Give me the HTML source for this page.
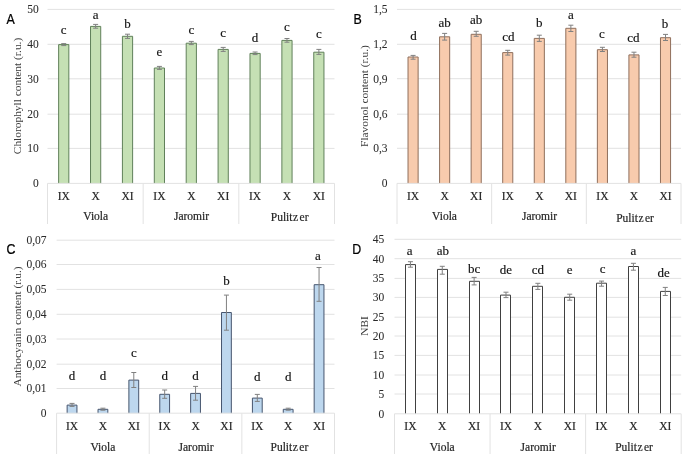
<!DOCTYPE html>
<html><head><meta charset="utf-8"><style>html,body{margin:0;padding:0;background:#fff;}svg{display:block;filter:blur(0.4px);}</style></head>
<body><svg width="685" height="459" viewBox="0 0 685 459">
<rect width="685" height="459" fill="#fff"/>
<text x="38.7" y="187.2" text-anchor="end" font-family='"Liberation Serif", serif' font-size="11.5" fill="#2a2a2a" stroke="#2a2a2a" stroke-width="0.05">0</text>
<line x1="47.5" y1="148.4" x2="334.5" y2="148.4" stroke="#e2e2e2" stroke-width="1"/>
<text x="38.7" y="152.2" text-anchor="end" font-family='"Liberation Serif", serif' font-size="11.5" fill="#2a2a2a" stroke="#2a2a2a" stroke-width="0.05">10</text>
<line x1="47.5" y1="114.2" x2="334.5" y2="114.2" stroke="#e2e2e2" stroke-width="1"/>
<text x="38.7" y="118" text-anchor="end" font-family='"Liberation Serif", serif' font-size="11.5" fill="#2a2a2a" stroke="#2a2a2a" stroke-width="0.05">20</text>
<line x1="47.5" y1="78.8" x2="334.5" y2="78.8" stroke="#e2e2e2" stroke-width="1"/>
<text x="38.7" y="82.6" text-anchor="end" font-family='"Liberation Serif", serif' font-size="11.5" fill="#2a2a2a" stroke="#2a2a2a" stroke-width="0.05">30</text>
<line x1="47.5" y1="44.3" x2="334.5" y2="44.3" stroke="#e2e2e2" stroke-width="1"/>
<text x="38.7" y="48.1" text-anchor="end" font-family='"Liberation Serif", serif' font-size="11.5" fill="#2a2a2a" stroke="#2a2a2a" stroke-width="0.05">40</text>
<line x1="47.5" y1="9.4" x2="334.5" y2="9.4" stroke="#e2e2e2" stroke-width="1"/>
<text x="38.7" y="13.2" text-anchor="end" font-family='"Liberation Serif", serif' font-size="11.5" fill="#2a2a2a" stroke="#2a2a2a" stroke-width="0.05">50</text>
<line x1="47.5" y1="183.4" x2="47.5" y2="224" stroke="#e2e2e2" stroke-width="1"/>
<line x1="143.17" y1="183.4" x2="143.17" y2="224" stroke="#e2e2e2" stroke-width="1"/>
<line x1="238.83" y1="183.4" x2="238.83" y2="224" stroke="#e2e2e2" stroke-width="1"/>
<line x1="334.5" y1="183.4" x2="334.5" y2="224" stroke="#e2e2e2" stroke-width="1"/>
<rect x="58.64" y="44.6" width="10.2" height="138.8" fill="#c5e0b4"/>
<path d="M58.64 183.4V44.6H68.84V183.4" fill="none" stroke="#60805a" stroke-width="1"/>
<path d="M63.74 43.6V45.6M61.24 43.6H66.24M61.24 45.6H66.24" stroke="#808080" stroke-width="1" fill="none"/>
<text x="63.74" y="34" text-anchor="middle" font-family='"Liberation Serif", serif' font-size="13" fill="#111" stroke="#111" stroke-width="0.15">c</text>
<text x="63.74" y="200.2" text-anchor="middle" font-family='"Liberation Serif", serif' font-size="11.5" fill="#262626" stroke="#262626" stroke-width="0.2">IX</text>
<rect x="90.53" y="26.4" width="10.2" height="157" fill="#c5e0b4"/>
<path d="M90.53 183.4V26.4H100.73V183.4" fill="none" stroke="#60805a" stroke-width="1"/>
<path d="M95.63 24.4V28.2M93.13 24.4H98.13M93.13 28.2H98.13" stroke="#808080" stroke-width="1" fill="none"/>
<text x="95.63" y="19.3" text-anchor="middle" font-family='"Liberation Serif", serif' font-size="13" fill="#111" stroke="#111" stroke-width="0.15">a</text>
<text x="95.63" y="200.2" text-anchor="middle" font-family='"Liberation Serif", serif' font-size="11.5" fill="#262626" stroke="#262626" stroke-width="0.2">X</text>
<rect x="122.42" y="36.3" width="10.2" height="147.1" fill="#c5e0b4"/>
<path d="M122.42 183.4V36.3H132.62V183.4" fill="none" stroke="#60805a" stroke-width="1"/>
<path d="M127.52 34.2V38.4M125.02 34.2H130.02M125.02 38.4H130.02" stroke="#808080" stroke-width="1" fill="none"/>
<text x="127.52" y="27.6" text-anchor="middle" font-family='"Liberation Serif", serif' font-size="13" fill="#111" stroke="#111" stroke-width="0.15">b</text>
<text x="127.52" y="200.2" text-anchor="middle" font-family='"Liberation Serif", serif' font-size="11.5" fill="#262626" stroke="#262626" stroke-width="0.2">XI</text>
<rect x="154.31" y="68" width="10.2" height="115.4" fill="#c5e0b4"/>
<path d="M154.31 183.4V68H164.51V183.4" fill="none" stroke="#60805a" stroke-width="1"/>
<path d="M159.41 66.4V69.4M156.91 66.4H161.91M156.91 69.4H161.91" stroke="#808080" stroke-width="1" fill="none"/>
<text x="159.41" y="55.5" text-anchor="middle" font-family='"Liberation Serif", serif' font-size="13" fill="#111" stroke="#111" stroke-width="0.15">e</text>
<text x="159.41" y="200.2" text-anchor="middle" font-family='"Liberation Serif", serif' font-size="11.5" fill="#262626" stroke="#262626" stroke-width="0.2">IX</text>
<rect x="186.2" y="43.2" width="10.2" height="140.2" fill="#c5e0b4"/>
<path d="M186.2 183.4V43.2H196.4V183.4" fill="none" stroke="#60805a" stroke-width="1"/>
<path d="M191.3 41.4V44.6M188.8 41.4H193.8M188.8 44.6H193.8" stroke="#808080" stroke-width="1" fill="none"/>
<text x="191.3" y="34" text-anchor="middle" font-family='"Liberation Serif", serif' font-size="13" fill="#111" stroke="#111" stroke-width="0.15">c</text>
<text x="191.3" y="200.2" text-anchor="middle" font-family='"Liberation Serif", serif' font-size="11.5" fill="#262626" stroke="#262626" stroke-width="0.2">X</text>
<rect x="218.09" y="49.4" width="10.2" height="134" fill="#c5e0b4"/>
<path d="M218.09 183.4V49.4H228.29V183.4" fill="none" stroke="#60805a" stroke-width="1"/>
<path d="M223.19 47.4V51.4M220.69 47.4H225.69M220.69 51.4H225.69" stroke="#808080" stroke-width="1" fill="none"/>
<text x="223.19" y="37" text-anchor="middle" font-family='"Liberation Serif", serif' font-size="13" fill="#111" stroke="#111" stroke-width="0.15">c</text>
<text x="223.19" y="200.2" text-anchor="middle" font-family='"Liberation Serif", serif' font-size="11.5" fill="#262626" stroke="#262626" stroke-width="0.2">XI</text>
<rect x="249.98" y="53.4" width="10.2" height="130" fill="#c5e0b4"/>
<path d="M249.98 183.4V53.4H260.18V183.4" fill="none" stroke="#60805a" stroke-width="1"/>
<path d="M255.08 52V54.6M252.58 52H257.58M252.58 54.6H257.58" stroke="#808080" stroke-width="1" fill="none"/>
<text x="255.08" y="41.5" text-anchor="middle" font-family='"Liberation Serif", serif' font-size="13" fill="#111" stroke="#111" stroke-width="0.15">d</text>
<text x="255.08" y="200.2" text-anchor="middle" font-family='"Liberation Serif", serif' font-size="11.5" fill="#262626" stroke="#262626" stroke-width="0.2">IX</text>
<rect x="281.87" y="40.4" width="10.2" height="143" fill="#c5e0b4"/>
<path d="M281.87 183.4V40.4H292.07V183.4" fill="none" stroke="#60805a" stroke-width="1"/>
<path d="M286.97 38.5V42.2M284.47 38.5H289.47M284.47 42.2H289.47" stroke="#808080" stroke-width="1" fill="none"/>
<text x="286.97" y="31" text-anchor="middle" font-family='"Liberation Serif", serif' font-size="13" fill="#111" stroke="#111" stroke-width="0.15">c</text>
<text x="286.97" y="200.2" text-anchor="middle" font-family='"Liberation Serif", serif' font-size="11.5" fill="#262626" stroke="#262626" stroke-width="0.2">X</text>
<rect x="313.76" y="52.2" width="10.2" height="131.2" fill="#c5e0b4"/>
<path d="M313.76 183.4V52.2H323.96V183.4" fill="none" stroke="#60805a" stroke-width="1"/>
<path d="M318.86 49.4V54.4M316.36 49.4H321.36M316.36 54.4H321.36" stroke="#808080" stroke-width="1" fill="none"/>
<text x="318.86" y="37.6" text-anchor="middle" font-family='"Liberation Serif", serif' font-size="13" fill="#111" stroke="#111" stroke-width="0.15">c</text>
<text x="318.86" y="200.2" text-anchor="middle" font-family='"Liberation Serif", serif' font-size="11.5" fill="#262626" stroke="#262626" stroke-width="0.2">XI</text>
<line x1="47.5" y1="183.4" x2="334.5" y2="183.4" stroke="#e2e2e2" stroke-width="1"/>
<text x="95.73" y="220.2" text-anchor="middle" font-family='"Liberation Serif", serif' font-size="11.5" fill="#262626" stroke="#262626" stroke-width="0.2">Viola</text>
<text x="191.5" y="220.2" text-anchor="middle" font-family='"Liberation Serif", serif' font-size="11.5" fill="#262626" stroke="#262626" stroke-width="0.2">Jaromir</text>
<text x="289.67" y="221.2" text-anchor="middle" font-family='"Liberation Serif", serif' font-size="11.5" fill="#262626" stroke="#262626" stroke-width="0.2">Pulit<tspan dx="0.6">z</tspan><tspan dx="1.4">er</tspan></text>
<text x="21.2" y="96" transform="rotate(-90 21.2 96)" text-anchor="middle" font-family='"Liberation Serif", serif' font-size="11.4" fill="#3a3a3a">Chlorophyll content (r.u.)</text>
<text transform="translate(6.6 23.9) scale(0.85 1)" font-family='"Liberation Sans", sans-serif' font-size="14.6" fill="#000" stroke="#000" stroke-width="0.25">A</text>
<text x="387.6" y="187.2" text-anchor="end" font-family='"Liberation Serif", serif' font-size="11.5" fill="#2a2a2a" stroke="#2a2a2a" stroke-width="0.05">0</text>
<line x1="397" y1="148.3" x2="681" y2="148.3" stroke="#e2e2e2" stroke-width="1"/>
<text x="387.6" y="152.1" text-anchor="end" font-family='"Liberation Serif", serif' font-size="11.5" fill="#2a2a2a" stroke="#2a2a2a" stroke-width="0.05">0,3</text>
<line x1="397" y1="114.2" x2="681" y2="114.2" stroke="#e2e2e2" stroke-width="1"/>
<text x="387.6" y="118" text-anchor="end" font-family='"Liberation Serif", serif' font-size="11.5" fill="#2a2a2a" stroke="#2a2a2a" stroke-width="0.05">0,6</text>
<line x1="397" y1="78.7" x2="681" y2="78.7" stroke="#e2e2e2" stroke-width="1"/>
<text x="387.6" y="82.5" text-anchor="end" font-family='"Liberation Serif", serif' font-size="11.5" fill="#2a2a2a" stroke="#2a2a2a" stroke-width="0.05">0,9</text>
<line x1="397" y1="44.3" x2="681" y2="44.3" stroke="#e2e2e2" stroke-width="1"/>
<text x="387.6" y="48.1" text-anchor="end" font-family='"Liberation Serif", serif' font-size="11.5" fill="#2a2a2a" stroke="#2a2a2a" stroke-width="0.05">1,2</text>
<line x1="397" y1="9.4" x2="681" y2="9.4" stroke="#e2e2e2" stroke-width="1"/>
<text x="387.6" y="13.2" text-anchor="end" font-family='"Liberation Serif", serif' font-size="11.5" fill="#2a2a2a" stroke="#2a2a2a" stroke-width="0.05">1,5</text>
<line x1="397" y1="183.4" x2="397" y2="224" stroke="#e2e2e2" stroke-width="1"/>
<line x1="491.67" y1="183.4" x2="491.67" y2="224" stroke="#e2e2e2" stroke-width="1"/>
<line x1="586.33" y1="183.4" x2="586.33" y2="224" stroke="#e2e2e2" stroke-width="1"/>
<line x1="681" y1="183.4" x2="681" y2="224" stroke="#e2e2e2" stroke-width="1"/>
<rect x="408.03" y="57" width="10.1" height="126.4" fill="#f8cbad"/>
<path d="M408.03 183.4V57H418.13V183.4" fill="none" stroke="#8f6f5c" stroke-width="1"/>
<path d="M413.08 55.4V59.2M410.58 55.4H415.58M410.58 59.2H415.58" stroke="#808080" stroke-width="1" fill="none"/>
<text x="413.48" y="40.3" text-anchor="middle" font-family='"Liberation Serif", serif' font-size="13" fill="#111" stroke="#111" stroke-width="0.15">d</text>
<text x="413.08" y="200.2" text-anchor="middle" font-family='"Liberation Serif", serif' font-size="11.5" fill="#262626" stroke="#262626" stroke-width="0.2">IX</text>
<rect x="439.58" y="36.8" width="10.1" height="146.6" fill="#f8cbad"/>
<path d="M439.58 183.4V36.8H449.68V183.4" fill="none" stroke="#8f6f5c" stroke-width="1"/>
<path d="M444.63 33.4V40.1M442.13 33.4H447.13M442.13 40.1H447.13" stroke="#808080" stroke-width="1" fill="none"/>
<text x="444.63" y="26.8" text-anchor="middle" font-family='"Liberation Serif", serif' font-size="13" fill="#111" stroke="#111" stroke-width="0.15">ab</text>
<text x="444.63" y="200.2" text-anchor="middle" font-family='"Liberation Serif", serif' font-size="11.5" fill="#262626" stroke="#262626" stroke-width="0.2">X</text>
<rect x="471.14" y="34.3" width="10.1" height="149.1" fill="#f8cbad"/>
<path d="M471.14 183.4V34.3H481.24V183.4" fill="none" stroke="#8f6f5c" stroke-width="1"/>
<path d="M476.19 31.3V36.3M473.69 31.3H478.69M473.69 36.3H478.69" stroke="#808080" stroke-width="1" fill="none"/>
<text x="476.19" y="23.6" text-anchor="middle" font-family='"Liberation Serif", serif' font-size="13" fill="#111" stroke="#111" stroke-width="0.15">ab</text>
<text x="476.19" y="200.2" text-anchor="middle" font-family='"Liberation Serif", serif' font-size="11.5" fill="#262626" stroke="#262626" stroke-width="0.2">XI</text>
<rect x="502.69" y="52.6" width="10.1" height="130.8" fill="#f8cbad"/>
<path d="M502.69 183.4V52.6H512.79V183.4" fill="none" stroke="#8f6f5c" stroke-width="1"/>
<path d="M507.74 50.3V55.1M505.24 50.3H510.24M505.24 55.1H510.24" stroke="#808080" stroke-width="1" fill="none"/>
<text x="508.34" y="40.7" text-anchor="middle" font-family='"Liberation Serif", serif' font-size="13" fill="#111" stroke="#111" stroke-width="0.15">cd</text>
<text x="507.74" y="200.2" text-anchor="middle" font-family='"Liberation Serif", serif' font-size="11.5" fill="#262626" stroke="#262626" stroke-width="0.2">IX</text>
<rect x="534.25" y="38.4" width="10.1" height="145" fill="#f8cbad"/>
<path d="M534.25 183.4V38.4H544.35V183.4" fill="none" stroke="#8f6f5c" stroke-width="1"/>
<path d="M539.3 35.2V41.4M536.8 35.2H541.8M536.8 41.4H541.8" stroke="#808080" stroke-width="1" fill="none"/>
<text x="539.3" y="26.9" text-anchor="middle" font-family='"Liberation Serif", serif' font-size="13" fill="#111" stroke="#111" stroke-width="0.15">b</text>
<text x="539.3" y="200.2" text-anchor="middle" font-family='"Liberation Serif", serif' font-size="11.5" fill="#262626" stroke="#262626" stroke-width="0.2">X</text>
<rect x="565.81" y="28.3" width="10.1" height="155.1" fill="#f8cbad"/>
<path d="M565.81 183.4V28.3H575.91V183.4" fill="none" stroke="#8f6f5c" stroke-width="1"/>
<path d="M570.86 25.2V31.5M568.36 25.2H573.36M568.36 31.5H573.36" stroke="#808080" stroke-width="1" fill="none"/>
<text x="570.86" y="19" text-anchor="middle" font-family='"Liberation Serif", serif' font-size="13" fill="#111" stroke="#111" stroke-width="0.15">a</text>
<text x="570.86" y="200.2" text-anchor="middle" font-family='"Liberation Serif", serif' font-size="11.5" fill="#262626" stroke="#262626" stroke-width="0.2">XI</text>
<rect x="597.36" y="49.7" width="10.1" height="133.7" fill="#f8cbad"/>
<path d="M597.36 183.4V49.7H607.46V183.4" fill="none" stroke="#8f6f5c" stroke-width="1"/>
<path d="M602.41 47.3V51.5M599.91 47.3H604.91M599.91 51.5H604.91" stroke="#808080" stroke-width="1" fill="none"/>
<text x="601.81" y="38.4" text-anchor="middle" font-family='"Liberation Serif", serif' font-size="13" fill="#111" stroke="#111" stroke-width="0.15">c</text>
<text x="602.41" y="200.2" text-anchor="middle" font-family='"Liberation Serif", serif' font-size="11.5" fill="#262626" stroke="#262626" stroke-width="0.2">IX</text>
<rect x="628.92" y="54.9" width="10.1" height="128.5" fill="#f8cbad"/>
<path d="M628.92 183.4V54.9H639.02V183.4" fill="none" stroke="#8f6f5c" stroke-width="1"/>
<path d="M633.97 52.2V57.2M631.47 52.2H636.47M631.47 57.2H636.47" stroke="#808080" stroke-width="1" fill="none"/>
<text x="633.47" y="41.9" text-anchor="middle" font-family='"Liberation Serif", serif' font-size="13" fill="#111" stroke="#111" stroke-width="0.15">cd</text>
<text x="633.97" y="200.2" text-anchor="middle" font-family='"Liberation Serif", serif' font-size="11.5" fill="#262626" stroke="#262626" stroke-width="0.2">X</text>
<rect x="660.47" y="37.7" width="10.1" height="145.7" fill="#f8cbad"/>
<path d="M660.47 183.4V37.7H670.57V183.4" fill="none" stroke="#8f6f5c" stroke-width="1"/>
<path d="M665.52 34.4V40.5M663.02 34.4H668.02M663.02 40.5H668.02" stroke="#808080" stroke-width="1" fill="none"/>
<text x="664.92" y="27.5" text-anchor="middle" font-family='"Liberation Serif", serif' font-size="13" fill="#111" stroke="#111" stroke-width="0.15">b</text>
<text x="665.52" y="200.2" text-anchor="middle" font-family='"Liberation Serif", serif' font-size="11.5" fill="#262626" stroke="#262626" stroke-width="0.2">XI</text>
<line x1="397" y1="183.4" x2="681" y2="183.4" stroke="#e2e2e2" stroke-width="1"/>
<text x="444.53" y="220.2" text-anchor="middle" font-family='"Liberation Serif", serif' font-size="11.5" fill="#262626" stroke="#262626" stroke-width="0.2">Viola</text>
<text x="539.5" y="220.2" text-anchor="middle" font-family='"Liberation Serif", serif' font-size="11.5" fill="#262626" stroke="#262626" stroke-width="0.2">Jaromir</text>
<text x="635.07" y="222.2" text-anchor="middle" font-family='"Liberation Serif", serif' font-size="11.5" fill="#262626" stroke="#262626" stroke-width="0.2">Pulit<tspan dx="0.6">z</tspan><tspan dx="1.4">er</tspan></text>
<text x="367.9" y="96" transform="rotate(-90 367.9 96)" text-anchor="middle" font-family='"Liberation Serif", serif' font-size="11.4" fill="#3a3a3a">Flavonol content (r.u.)</text>
<text transform="translate(353.4 23.9) scale(0.85 1)" font-family='"Liberation Sans", sans-serif' font-size="14.6" fill="#000" stroke="#000" stroke-width="0.25">B</text>
<text x="46.5" y="417" text-anchor="end" font-family='"Liberation Serif", serif' font-size="11.5" fill="#2a2a2a" stroke="#2a2a2a" stroke-width="0.05">0</text>
<line x1="56.6" y1="388.5" x2="334.5" y2="388.5" stroke="#e2e2e2" stroke-width="1"/>
<text x="46.5" y="392.3" text-anchor="end" font-family='"Liberation Serif", serif' font-size="11.5" fill="#2a2a2a" stroke="#2a2a2a" stroke-width="0.05">0,01</text>
<line x1="56.6" y1="364.2" x2="334.5" y2="364.2" stroke="#e2e2e2" stroke-width="1"/>
<text x="46.5" y="368" text-anchor="end" font-family='"Liberation Serif", serif' font-size="11.5" fill="#2a2a2a" stroke="#2a2a2a" stroke-width="0.05">0,02</text>
<line x1="56.6" y1="339" x2="334.5" y2="339" stroke="#e2e2e2" stroke-width="1"/>
<text x="46.5" y="342.8" text-anchor="end" font-family='"Liberation Serif", serif' font-size="11.5" fill="#2a2a2a" stroke="#2a2a2a" stroke-width="0.05">0,03</text>
<line x1="56.6" y1="314.3" x2="334.5" y2="314.3" stroke="#e2e2e2" stroke-width="1"/>
<text x="46.5" y="318.1" text-anchor="end" font-family='"Liberation Serif", serif' font-size="11.5" fill="#2a2a2a" stroke="#2a2a2a" stroke-width="0.05">0,04</text>
<line x1="56.6" y1="289.4" x2="334.5" y2="289.4" stroke="#e2e2e2" stroke-width="1"/>
<text x="46.5" y="293.2" text-anchor="end" font-family='"Liberation Serif", serif' font-size="11.5" fill="#2a2a2a" stroke="#2a2a2a" stroke-width="0.05">0,05</text>
<line x1="56.6" y1="264.5" x2="334.5" y2="264.5" stroke="#e2e2e2" stroke-width="1"/>
<text x="46.5" y="268.3" text-anchor="end" font-family='"Liberation Serif", serif' font-size="11.5" fill="#2a2a2a" stroke="#2a2a2a" stroke-width="0.05">0,06</text>
<line x1="56.6" y1="240.2" x2="334.5" y2="240.2" stroke="#e2e2e2" stroke-width="1"/>
<text x="46.5" y="244" text-anchor="end" font-family='"Liberation Serif", serif' font-size="11.5" fill="#2a2a2a" stroke="#2a2a2a" stroke-width="0.05">0,07</text>
<line x1="56.6" y1="413.2" x2="56.6" y2="454" stroke="#e2e2e2" stroke-width="1"/>
<line x1="149.23" y1="413.2" x2="149.23" y2="454" stroke="#e2e2e2" stroke-width="1"/>
<line x1="241.87" y1="413.2" x2="241.87" y2="454" stroke="#e2e2e2" stroke-width="1"/>
<line x1="334.5" y1="413.2" x2="334.5" y2="454" stroke="#e2e2e2" stroke-width="1"/>
<rect x="67.14" y="405.1" width="9.8" height="8.1" fill="#bdd7ee"/>
<path d="M67.14 413.2V405.1H76.94V413.2" fill="none" stroke="#46556e" stroke-width="1"/>
<path d="M72.04 403.4V406.4M69.54 403.4H74.54M69.54 406.4H74.54" stroke="#808080" stroke-width="1" fill="none"/>
<text x="72.04" y="380" text-anchor="middle" font-family='"Liberation Serif", serif' font-size="13" fill="#111" stroke="#111" stroke-width="0.15">d</text>
<text x="72.04" y="430.2" text-anchor="middle" font-family='"Liberation Serif", serif' font-size="11.5" fill="#262626" stroke="#262626" stroke-width="0.2">IX</text>
<rect x="98.02" y="409.3" width="9.8" height="3.9" fill="#bdd7ee"/>
<path d="M98.02 413.2V409.3H107.82V413.2" fill="none" stroke="#46556e" stroke-width="1"/>
<path d="M102.92 408.2V410.2M100.42 408.2H105.42M100.42 410.2H105.42" stroke="#808080" stroke-width="1" fill="none"/>
<text x="102.92" y="379.6" text-anchor="middle" font-family='"Liberation Serif", serif' font-size="13" fill="#111" stroke="#111" stroke-width="0.15">d</text>
<text x="102.92" y="430.2" text-anchor="middle" font-family='"Liberation Serif", serif' font-size="11.5" fill="#262626" stroke="#262626" stroke-width="0.2">X</text>
<rect x="128.89" y="380.1" width="9.8" height="33.1" fill="#bdd7ee"/>
<path d="M128.89 413.2V380.1H138.69V413.2" fill="none" stroke="#46556e" stroke-width="1"/>
<path d="M133.79 372.5V387.5M131.29 372.5H136.29M131.29 387.5H136.29" stroke="#808080" stroke-width="1" fill="none"/>
<text x="133.79" y="356.8" text-anchor="middle" font-family='"Liberation Serif", serif' font-size="13" fill="#111" stroke="#111" stroke-width="0.15">c</text>
<text x="133.79" y="430.2" text-anchor="middle" font-family='"Liberation Serif", serif' font-size="11.5" fill="#262626" stroke="#262626" stroke-width="0.2">XI</text>
<rect x="159.77" y="394.3" width="9.8" height="18.9" fill="#bdd7ee"/>
<path d="M159.77 413.2V394.3H169.57V413.2" fill="none" stroke="#46556e" stroke-width="1"/>
<path d="M164.67 390V398.3M162.17 390H167.17M162.17 398.3H167.17" stroke="#808080" stroke-width="1" fill="none"/>
<text x="164.67" y="380" text-anchor="middle" font-family='"Liberation Serif", serif' font-size="13" fill="#111" stroke="#111" stroke-width="0.15">d</text>
<text x="164.67" y="430.2" text-anchor="middle" font-family='"Liberation Serif", serif' font-size="11.5" fill="#262626" stroke="#262626" stroke-width="0.2">IX</text>
<rect x="190.65" y="393.4" width="9.8" height="19.8" fill="#bdd7ee"/>
<path d="M190.65 413.2V393.4H200.45V413.2" fill="none" stroke="#46556e" stroke-width="1"/>
<path d="M195.55 386.4V400.2M193.05 386.4H198.05M193.05 400.2H198.05" stroke="#808080" stroke-width="1" fill="none"/>
<text x="195.55" y="379.6" text-anchor="middle" font-family='"Liberation Serif", serif' font-size="13" fill="#111" stroke="#111" stroke-width="0.15">d</text>
<text x="195.55" y="430.2" text-anchor="middle" font-family='"Liberation Serif", serif' font-size="11.5" fill="#262626" stroke="#262626" stroke-width="0.2">X</text>
<rect x="221.53" y="312.5" width="9.8" height="100.7" fill="#bdd7ee"/>
<path d="M221.53 413.2V312.5H231.33V413.2" fill="none" stroke="#46556e" stroke-width="1"/>
<path d="M226.43 295.1V330.2M223.93 295.1H228.93M223.93 330.2H228.93" stroke="#808080" stroke-width="1" fill="none"/>
<text x="226.43" y="284.6" text-anchor="middle" font-family='"Liberation Serif", serif' font-size="13" fill="#111" stroke="#111" stroke-width="0.15">b</text>
<text x="226.43" y="430.2" text-anchor="middle" font-family='"Liberation Serif", serif' font-size="11.5" fill="#262626" stroke="#262626" stroke-width="0.2">XI</text>
<rect x="252.41" y="398.1" width="9.8" height="15.1" fill="#bdd7ee"/>
<path d="M252.41 413.2V398.1H262.21V413.2" fill="none" stroke="#46556e" stroke-width="1"/>
<path d="M257.31 394.4V401.4M254.81 394.4H259.81M254.81 401.4H259.81" stroke="#808080" stroke-width="1" fill="none"/>
<text x="257.31" y="380.5" text-anchor="middle" font-family='"Liberation Serif", serif' font-size="13" fill="#111" stroke="#111" stroke-width="0.15">d</text>
<text x="257.31" y="430.2" text-anchor="middle" font-family='"Liberation Serif", serif' font-size="11.5" fill="#262626" stroke="#262626" stroke-width="0.2">IX</text>
<rect x="283.28" y="409.3" width="9.8" height="3.9" fill="#bdd7ee"/>
<path d="M283.28 413.2V409.3H293.08V413.2" fill="none" stroke="#46556e" stroke-width="1"/>
<path d="M288.18 408.2V410.2M285.68 408.2H290.68M285.68 410.2H290.68" stroke="#808080" stroke-width="1" fill="none"/>
<text x="288.18" y="380.5" text-anchor="middle" font-family='"Liberation Serif", serif' font-size="13" fill="#111" stroke="#111" stroke-width="0.15">d</text>
<text x="288.18" y="430.2" text-anchor="middle" font-family='"Liberation Serif", serif' font-size="11.5" fill="#262626" stroke="#262626" stroke-width="0.2">X</text>
<rect x="314.16" y="284.7" width="9.8" height="128.5" fill="#bdd7ee"/>
<path d="M314.16 413.2V284.7H323.96V413.2" fill="none" stroke="#46556e" stroke-width="1"/>
<path d="M319.06 267.5V301.3M316.56 267.5H321.56M316.56 301.3H321.56" stroke="#808080" stroke-width="1" fill="none"/>
<text x="317.96" y="260.2" text-anchor="middle" font-family='"Liberation Serif", serif' font-size="13" fill="#111" stroke="#111" stroke-width="0.15">a</text>
<text x="319.06" y="430.2" text-anchor="middle" font-family='"Liberation Serif", serif' font-size="11.5" fill="#262626" stroke="#262626" stroke-width="0.2">XI</text>
<line x1="56.6" y1="413.2" x2="334.5" y2="413.2" stroke="#e2e2e2" stroke-width="1"/>
<text x="102.92" y="451" text-anchor="middle" font-family='"Liberation Serif", serif' font-size="11.5" fill="#262626" stroke="#262626" stroke-width="0.2">Viola</text>
<text x="196.05" y="451" text-anchor="middle" font-family='"Liberation Serif", serif' font-size="11.5" fill="#262626" stroke="#262626" stroke-width="0.2">Jaromir</text>
<text x="289.38" y="451" text-anchor="middle" font-family='"Liberation Serif", serif' font-size="11.5" fill="#262626" stroke="#262626" stroke-width="0.2">Pulit<tspan dx="0.6">z</tspan><tspan dx="1.4">er</tspan></text>
<text x="21.3" y="326.5" transform="rotate(-90 21.3 326.5)" text-anchor="middle" font-family='"Liberation Serif", serif' font-size="11.4" fill="#3a3a3a">Anthocyanin content (r.u.)</text>
<text transform="translate(6.4 253.6) scale(0.85 1)" font-family='"Liberation Sans", sans-serif' font-size="14.6" fill="#000" stroke="#000" stroke-width="0.25">C</text>
<text x="384.3" y="417.5" text-anchor="end" font-family='"Liberation Serif", serif' font-size="11.5" fill="#2a2a2a" stroke="#2a2a2a" stroke-width="0.05">0</text>
<line x1="394.5" y1="394" x2="681.2" y2="394" stroke="#e2e2e2" stroke-width="1"/>
<text x="384.3" y="397.8" text-anchor="end" font-family='"Liberation Serif", serif' font-size="11.5" fill="#2a2a2a" stroke="#2a2a2a" stroke-width="0.05">5</text>
<line x1="394.5" y1="375" x2="681.2" y2="375" stroke="#e2e2e2" stroke-width="1"/>
<text x="384.3" y="378.8" text-anchor="end" font-family='"Liberation Serif", serif' font-size="11.5" fill="#2a2a2a" stroke="#2a2a2a" stroke-width="0.05">10</text>
<line x1="394.5" y1="355.4" x2="681.2" y2="355.4" stroke="#e2e2e2" stroke-width="1"/>
<text x="384.3" y="359.2" text-anchor="end" font-family='"Liberation Serif", serif' font-size="11.5" fill="#2a2a2a" stroke="#2a2a2a" stroke-width="0.05">15</text>
<line x1="394.5" y1="336" x2="681.2" y2="336" stroke="#e2e2e2" stroke-width="1"/>
<text x="384.3" y="339.8" text-anchor="end" font-family='"Liberation Serif", serif' font-size="11.5" fill="#2a2a2a" stroke="#2a2a2a" stroke-width="0.05">20</text>
<line x1="394.5" y1="317.2" x2="681.2" y2="317.2" stroke="#e2e2e2" stroke-width="1"/>
<text x="384.3" y="321" text-anchor="end" font-family='"Liberation Serif", serif' font-size="11.5" fill="#2a2a2a" stroke="#2a2a2a" stroke-width="0.05">25</text>
<line x1="394.5" y1="297.4" x2="681.2" y2="297.4" stroke="#e2e2e2" stroke-width="1"/>
<text x="384.3" y="301.2" text-anchor="end" font-family='"Liberation Serif", serif' font-size="11.5" fill="#2a2a2a" stroke="#2a2a2a" stroke-width="0.05">30</text>
<line x1="394.5" y1="278.4" x2="681.2" y2="278.4" stroke="#e2e2e2" stroke-width="1"/>
<text x="384.3" y="282.2" text-anchor="end" font-family='"Liberation Serif", serif' font-size="11.5" fill="#2a2a2a" stroke="#2a2a2a" stroke-width="0.05">35</text>
<line x1="394.5" y1="258.7" x2="681.2" y2="258.7" stroke="#e2e2e2" stroke-width="1"/>
<text x="384.3" y="262.5" text-anchor="end" font-family='"Liberation Serif", serif' font-size="11.5" fill="#2a2a2a" stroke="#2a2a2a" stroke-width="0.05">40</text>
<line x1="394.5" y1="239.3" x2="681.2" y2="239.3" stroke="#e2e2e2" stroke-width="1"/>
<text x="384.3" y="243.1" text-anchor="end" font-family='"Liberation Serif", serif' font-size="11.5" fill="#2a2a2a" stroke="#2a2a2a" stroke-width="0.05">45</text>
<line x1="394.5" y1="413.8" x2="394.5" y2="454" stroke="#e2e2e2" stroke-width="1"/>
<line x1="490.07" y1="413.8" x2="490.07" y2="454" stroke="#e2e2e2" stroke-width="1"/>
<line x1="585.63" y1="413.8" x2="585.63" y2="454" stroke="#e2e2e2" stroke-width="1"/>
<line x1="681.2" y1="413.8" x2="681.2" y2="454" stroke="#e2e2e2" stroke-width="1"/>
<rect x="405.5" y="264.6" width="10.3" height="149.2" fill="#ffffff"/>
<path d="M405.5 413.8V264.6H415.5V413.8" fill="none" stroke="#404040" stroke-width="1"/>
<path d="M410.43 261.7V267.2M407.93 261.7H412.93M407.93 267.2H412.93" stroke="#808080" stroke-width="1" fill="none"/>
<text x="409.53" y="255.2" text-anchor="middle" font-family='"Liberation Serif", serif' font-size="13" fill="#111" stroke="#111" stroke-width="0.15">a</text>
<text x="410.43" y="430.4" text-anchor="middle" font-family='"Liberation Serif", serif' font-size="11.5" fill="#262626" stroke="#262626" stroke-width="0.2">IX</text>
<rect x="437.5" y="269.4" width="10.3" height="144.4" fill="#ffffff"/>
<path d="M437.5 413.8V269.4H447.5V413.8" fill="none" stroke="#404040" stroke-width="1"/>
<path d="M442.28 266.3V274.2M439.78 266.3H444.78M439.78 274.2H444.78" stroke="#808080" stroke-width="1" fill="none"/>
<text x="442.88" y="255.2" text-anchor="middle" font-family='"Liberation Serif", serif' font-size="13" fill="#111" stroke="#111" stroke-width="0.15">ab</text>
<text x="442.28" y="430.4" text-anchor="middle" font-family='"Liberation Serif", serif' font-size="11.5" fill="#262626" stroke="#262626" stroke-width="0.2">X</text>
<rect x="469.5" y="281.3" width="10.3" height="132.5" fill="#ffffff"/>
<path d="M469.5 413.8V281.3H479.5V413.8" fill="none" stroke="#404040" stroke-width="1"/>
<path d="M474.14 277.4V284.9M471.64 277.4H476.64M471.64 284.9H476.64" stroke="#808080" stroke-width="1" fill="none"/>
<text x="474.14" y="273.4" text-anchor="middle" font-family='"Liberation Serif", serif' font-size="13" fill="#111" stroke="#111" stroke-width="0.15">bc</text>
<text x="474.14" y="430.4" text-anchor="middle" font-family='"Liberation Serif", serif' font-size="11.5" fill="#262626" stroke="#262626" stroke-width="0.2">XI</text>
<rect x="500.5" y="295.1" width="10.3" height="118.7" fill="#ffffff"/>
<path d="M500.5 413.8V295.1H510.5V413.8" fill="none" stroke="#404040" stroke-width="1"/>
<path d="M505.99 292.2V297.6M503.49 292.2H508.49M503.49 297.6H508.49" stroke="#808080" stroke-width="1" fill="none"/>
<text x="505.99" y="273.6" text-anchor="middle" font-family='"Liberation Serif", serif' font-size="13" fill="#111" stroke="#111" stroke-width="0.15">de</text>
<text x="505.99" y="430.4" text-anchor="middle" font-family='"Liberation Serif", serif' font-size="11.5" fill="#262626" stroke="#262626" stroke-width="0.2">IX</text>
<rect x="532.5" y="286.3" width="10.3" height="127.5" fill="#ffffff"/>
<path d="M532.5 413.8V286.3H542.5V413.8" fill="none" stroke="#404040" stroke-width="1"/>
<path d="M537.85 283.3V289.4M535.35 283.3H540.35M535.35 289.4H540.35" stroke="#808080" stroke-width="1" fill="none"/>
<text x="537.85" y="274" text-anchor="middle" font-family='"Liberation Serif", serif' font-size="13" fill="#111" stroke="#111" stroke-width="0.15">cd</text>
<text x="537.85" y="430.4" text-anchor="middle" font-family='"Liberation Serif", serif' font-size="11.5" fill="#262626" stroke="#262626" stroke-width="0.2">X</text>
<rect x="564.5" y="297.3" width="10.3" height="116.5" fill="#ffffff"/>
<path d="M564.5 413.8V297.3H574.5V413.8" fill="none" stroke="#404040" stroke-width="1"/>
<path d="M569.71 294.2V300.2M567.21 294.2H572.21M567.21 300.2H572.21" stroke="#808080" stroke-width="1" fill="none"/>
<text x="569.71" y="274" text-anchor="middle" font-family='"Liberation Serif", serif' font-size="13" fill="#111" stroke="#111" stroke-width="0.15">e</text>
<text x="569.71" y="430.4" text-anchor="middle" font-family='"Liberation Serif", serif' font-size="11.5" fill="#262626" stroke="#262626" stroke-width="0.2">XI</text>
<rect x="596.5" y="283.2" width="10.3" height="130.6" fill="#ffffff"/>
<path d="M596.5 413.8V283.2H606.5V413.8" fill="none" stroke="#404040" stroke-width="1"/>
<path d="M601.56 281.1V286.2M599.06 281.1H604.06M599.06 286.2H604.06" stroke="#808080" stroke-width="1" fill="none"/>
<text x="602.56" y="273.4" text-anchor="middle" font-family='"Liberation Serif", serif' font-size="13" fill="#111" stroke="#111" stroke-width="0.15">c</text>
<text x="601.56" y="430.4" text-anchor="middle" font-family='"Liberation Serif", serif' font-size="11.5" fill="#262626" stroke="#262626" stroke-width="0.2">IX</text>
<rect x="628.5" y="266.5" width="10.3" height="147.3" fill="#ffffff"/>
<path d="M628.5 413.8V266.5H638.5V413.8" fill="none" stroke="#404040" stroke-width="1"/>
<path d="M633.42 263.3V270.2M630.92 263.3H635.92M630.92 270.2H635.92" stroke="#808080" stroke-width="1" fill="none"/>
<text x="633.42" y="255.2" text-anchor="middle" font-family='"Liberation Serif", serif' font-size="13" fill="#111" stroke="#111" stroke-width="0.15">a</text>
<text x="633.42" y="430.4" text-anchor="middle" font-family='"Liberation Serif", serif' font-size="11.5" fill="#262626" stroke="#262626" stroke-width="0.2">X</text>
<rect x="660.5" y="291.4" width="10.3" height="122.4" fill="#ffffff"/>
<path d="M660.5 413.8V291.4H670.5V413.8" fill="none" stroke="#404040" stroke-width="1"/>
<path d="M665.27 287.4V295.5M662.77 287.4H667.77M662.77 295.5H667.77" stroke="#808080" stroke-width="1" fill="none"/>
<text x="663.67" y="276.8" text-anchor="middle" font-family='"Liberation Serif", serif' font-size="13" fill="#111" stroke="#111" stroke-width="0.15">de</text>
<text x="665.27" y="430.4" text-anchor="middle" font-family='"Liberation Serif", serif' font-size="11.5" fill="#262626" stroke="#262626" stroke-width="0.2">XI</text>
<line x1="394.5" y1="413.8" x2="681.2" y2="413.8" stroke="#e2e2e2" stroke-width="1"/>
<text x="442.28" y="451" text-anchor="middle" font-family='"Liberation Serif", serif' font-size="11.5" fill="#262626" stroke="#262626" stroke-width="0.2">Viola</text>
<text x="538.15" y="451" text-anchor="middle" font-family='"Liberation Serif", serif' font-size="11.5" fill="#262626" stroke="#262626" stroke-width="0.2">Jaromir</text>
<text x="634.02" y="451" text-anchor="middle" font-family='"Liberation Serif", serif' font-size="11.5" fill="#262626" stroke="#262626" stroke-width="0.2">Pulit<tspan dx="0.6">z</tspan><tspan dx="1.4">er</tspan></text>
<text x="367.6" y="326" transform="rotate(-90 367.6 326)" text-anchor="middle" font-family='"Liberation Serif", serif' font-size="11.4" fill="#3a3a3a">NBI</text>
<text transform="translate(352.3 253.6) scale(0.85 1)" font-family='"Liberation Sans", sans-serif' font-size="14.6" fill="#000" stroke="#000" stroke-width="0.25">D</text>
</svg></body></html>
